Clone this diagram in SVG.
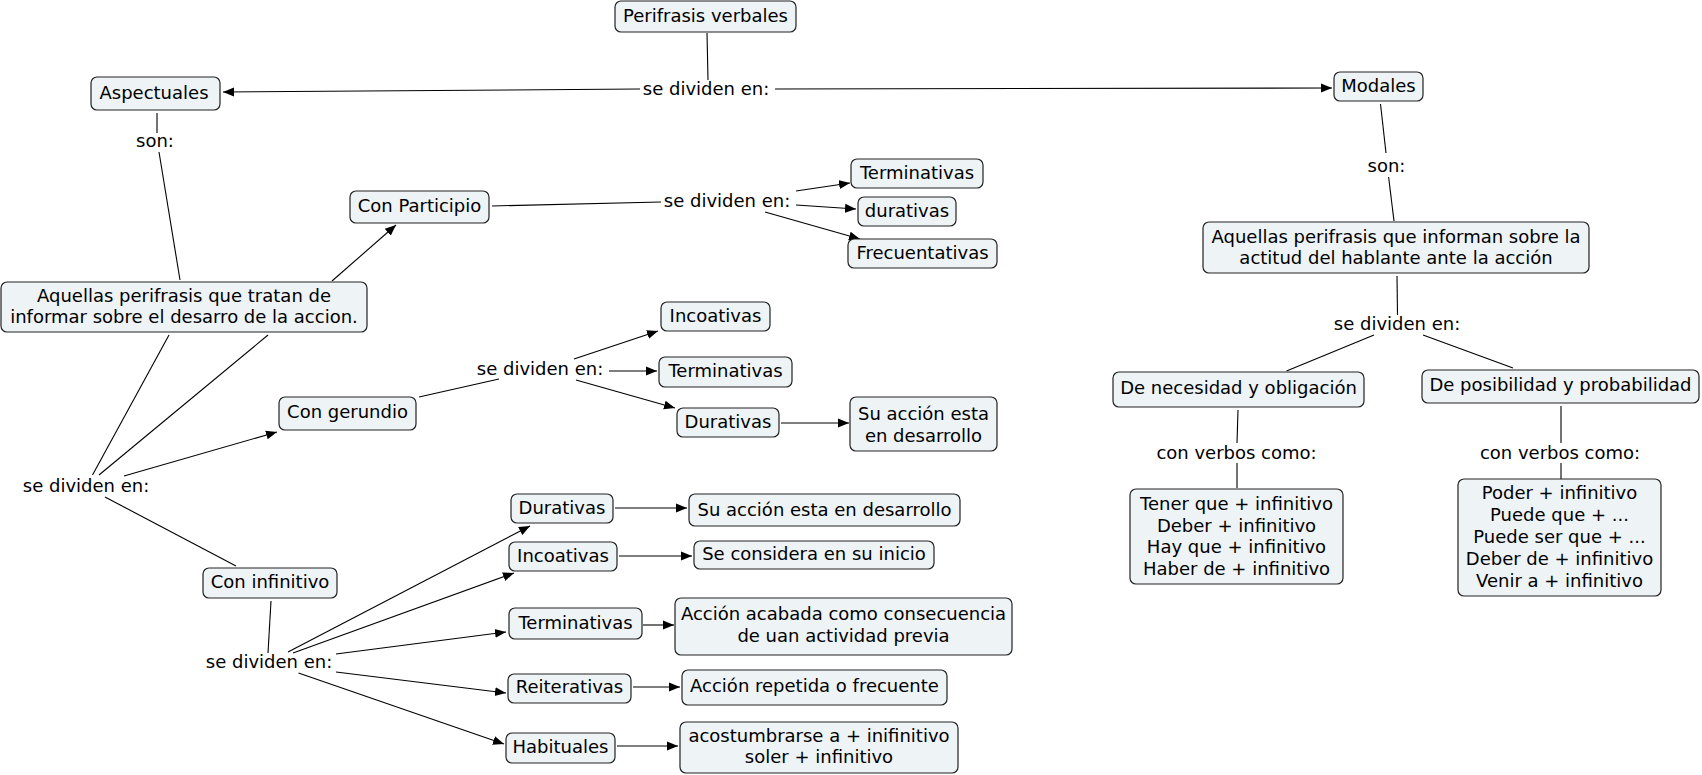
<svg xmlns="http://www.w3.org/2000/svg" width="1702" height="775" viewBox="0 0 1702 775">
<style>
.n rect{fill:#eef3f5;stroke:#222;stroke-width:1.2}
text{font-family:"DejaVu Sans","Verdana",sans-serif;font-size:18px;fill:#000;text-anchor:middle;transform:translateY(-1.5px)}
.c line{stroke:#000;stroke-width:1.1;fill:none}
.c .a{marker-end:url(#ah)}
</style>
<defs>
<marker id="ah" markerUnits="userSpaceOnUse" markerWidth="12" markerHeight="10" refX="11" refY="5" orient="auto">
<path d="M0,0.5 L11,5 L0,9.5 z" fill="#000"/>
</marker>
</defs>
<rect width="1702" height="775" fill="#fff"/>
<g id="connectors" class="c">
<line x1="707" y1="33" x2="708" y2="80"/>
<line class="a" x1="640" y1="89" x2="223" y2="92"/>
<line class="a" x1="775" y1="89" x2="1332" y2="88"/>
<line x1="157" y1="113" x2="157" y2="133"/>
<line x1="159" y1="152" x2="180" y2="280"/>
<line class="a" x1="332" y1="281" x2="396" y2="225"/>
<line x1="492" y1="206" x2="661" y2="202"/>
<line class="a" x1="796" y1="191" x2="850" y2="183"/>
<line class="a" x1="796" y1="205" x2="856" y2="209"/>
<line class="a" x1="765" y1="212" x2="860" y2="239"/>
<line x1="1380.5" y1="104" x2="1386" y2="153"/>
<line x1="1388.6" y1="177" x2="1394" y2="221"/>
<line x1="1397" y1="276" x2="1397.5" y2="315"/>
<line x1="1374" y1="335" x2="1286.5" y2="371"/>
<line x1="1423" y1="335" x2="1513" y2="368"/>
<line x1="1238" y1="410" x2="1237" y2="443"/>
<line x1="1237" y1="463" x2="1237" y2="488"/>
<line x1="1561" y1="406" x2="1561" y2="443"/>
<line x1="1561" y1="463" x2="1561" y2="479"/>
<line x1="169" y1="335" x2="92.5" y2="475"/>
<line x1="268" y1="335" x2="99" y2="475"/>
<line class="a" x1="124" y1="476" x2="277" y2="432"/>
<line x1="105" y1="497" x2="236" y2="566"/>
<line x1="419" y1="397" x2="499" y2="379"/>
<line class="a" x1="574" y1="359" x2="658" y2="331"/>
<line class="a" x1="609" y1="371" x2="657" y2="371"/>
<line class="a" x1="576" y1="380" x2="675" y2="408"/>
<line class="a" x1="781" y1="423" x2="849" y2="423"/>
<line x1="271" y1="601" x2="268" y2="653"/>
<line class="a" x1="288" y1="652" x2="530" y2="526"/>
<line class="a" x1="293" y1="653" x2="514" y2="573"/>
<line class="a" x1="336" y1="654" x2="506" y2="632"/>
<line class="a" x1="336" y1="672" x2="506" y2="693"/>
<line class="a" x1="298.5" y1="673" x2="504" y2="744"/>
<line class="a" x1="615" y1="508" x2="687" y2="508"/>
<line class="a" x1="619" y1="556" x2="692" y2="556"/>
<line class="a" x1="643" y1="625" x2="674" y2="625"/>
<line class="a" x1="633" y1="687" x2="680" y2="687"/>
<line class="a" x1="617" y1="746" x2="678" y2="746"/>
</g>
<g id="n-perifrasis" class="n"><rect x="615" y="1" width="181" height="31" rx="6"/><text x="705.5" y="23">Perifrasis verbales</text></g>
<g id="n-aspectuales" class="n"><rect x="91" y="77" width="129" height="33" rx="6"/><text x="154" y="100">Aspectuales</text></g>
<g id="n-modales" class="n"><rect x="1334" y="72" width="89" height="29" rx="6"/><text x="1378.5" y="93">Modales</text></g>
<g id="n-participio" class="n"><rect x="350" y="191" width="139" height="32" rx="6"/><text x="419.5" y="213.5">Con Participio</text></g>
<g id="n-aquellas-asp" class="n"><rect x="1" y="282" width="366" height="50" rx="6"/><text x="184" y="303.5">Aquellas perifrasis que tratan de</text><text x="184" y="324.5">informar sobre el desarro de la accion.</text></g>
<g id="n-term-p" class="n"><rect x="851" y="159" width="132" height="29" rx="6"/><text x="917" y="180">Terminativas</text></g>
<g id="n-dur-p" class="n"><rect x="858" y="197" width="98" height="29" rx="6"/><text x="907" y="218">durativas</text></g>
<g id="n-frec-p" class="n"><rect x="848" y="239" width="149" height="29" rx="6"/><text x="922.5" y="260">Frecuentativas</text></g>
<g id="n-aquellas-mod" class="n"><rect x="1203" y="222" width="386" height="51" rx="6"/><text x="1396" y="244.5">Aquellas perifrasis que informan sobre la</text><text x="1396" y="265.5">actitud del hablante ante la acción</text></g>
<g id="n-necesidad" class="n"><rect x="1113" y="372" width="251" height="35" rx="6"/><text x="1238.5" y="395.5">De necesidad y obligación</text></g>
<g id="n-posibilidad" class="n"><rect x="1422" y="370" width="277" height="33" rx="6"/><text x="1560.5" y="392">De posibilidad y probabilidad</text></g>
<g id="n-tener" class="n"><rect x="1130" y="489" width="213" height="95" rx="6"/><text x="1236.5" y="511.5">Tener que + infinitivo</text><text x="1236.5" y="533">Deber + infinitivo</text><text x="1236.5" y="554.5">Hay que + infinitivo</text><text x="1236.5" y="576">Haber de + infinitivo</text></g>
<g id="n-poder" class="n"><rect x="1458" y="479" width="203" height="117" rx="6"/><text x="1559.5" y="500.5">Poder + infinitivo</text><text x="1559.5" y="522.5">Puede que + ...</text><text x="1559.5" y="544.5">Puede ser que + ...</text><text x="1559.5" y="566.5">Deber de + infinitivo</text><text x="1559.5" y="588.5">Venir a + infinitivo</text></g>
<g id="n-gerundio" class="n"><rect x="279" y="397" width="137" height="33" rx="6"/><text x="347.5" y="419">Con gerundio</text></g>
<g id="n-inc-g" class="n"><rect x="661" y="302" width="109" height="29" rx="6"/><text x="715.5" y="323">Incoativas</text></g>
<g id="n-term-g" class="n"><rect x="659" y="357" width="133" height="30" rx="6"/><text x="725.5" y="378.5">Terminativas</text></g>
<g id="n-dur-g" class="n"><rect x="677" y="408" width="102" height="29" rx="6"/><text x="728" y="429">Durativas</text></g>
<g id="n-su-accion-g" class="n"><rect x="850" y="397" width="147" height="54" rx="6"/><text x="923.5" y="421.5">Su acción esta</text><text x="923.5" y="443.5">en desarrollo</text></g>
<g id="n-infinitivo" class="n"><rect x="203" y="568" width="134" height="30" rx="6"/><text x="270" y="589.5">Con infinitivo</text></g>
<g id="n-dur-i" class="n"><rect x="511" y="494" width="102" height="29" rx="6"/><text x="562" y="515">Durativas</text></g>
<g id="n-su-accion-i" class="n"><rect x="689" y="494" width="271" height="32" rx="6"/><text x="824.5" y="517">Su acción esta en desarrollo</text></g>
<g id="n-inc-i" class="n"><rect x="509" y="542" width="108" height="29" rx="6"/><text x="563" y="563">Incoativas</text></g>
<g id="n-considera" class="n"><rect x="694" y="541" width="240" height="28" rx="6"/><text x="814" y="561.5">Se considera en su inicio</text></g>
<g id="n-term-i" class="n"><rect x="509" y="608" width="133" height="31" rx="6"/><text x="575.5" y="630.5">Terminativas</text></g>
<g id="n-acabada" class="n"><rect x="675" y="598" width="337" height="57" rx="6"/><text x="843.5" y="621.5">Acción acabada como consecuencia</text><text x="843.5" y="643.5">de uan actividad previa</text></g>
<g id="n-reit" class="n"><rect x="508" y="674" width="123" height="29" rx="6"/><text x="569.5" y="694.5">Reiterativas</text></g>
<g id="n-repetida" class="n"><rect x="682" y="670" width="265" height="35" rx="6"/><text x="814.5" y="693.5">Acción repetida o frecuente</text></g>
<g id="n-habit" class="n"><rect x="506" y="733" width="109" height="30" rx="6"/><text x="560.5" y="754.5">Habituales</text></g>
<g id="n-acostumbrarse" class="n"><rect x="680" y="722" width="278" height="51" rx="6"/><text x="819" y="743.5">acostumbrarse a + inifinitivo</text><text x="819" y="764.5">soler + infinitivo</text></g>
<g id="l-top"><text x="706" y="96.5">se dividen en:</text></g>
<g id="l-son-asp"><text x="155" y="148.5">son:</text></g>
<g id="l-part"><text x="727" y="208.5">se dividen en:</text></g>
<g id="l-son-mod"><text x="1386.5" y="173.5">son:</text></g>
<g id="l-mod"><text x="1397" y="331.5">se dividen en:</text></g>
<g id="l-con1"><text x="1236.5" y="460.5">con verbos como:</text></g>
<g id="l-con2"><text x="1560" y="460.5">con verbos como:</text></g>
<g id="l-asp"><text x="86" y="493.5">se dividen en:</text></g>
<g id="l-ger"><text x="540" y="376.5">se dividen en:</text></g>
<g id="l-inf"><text x="269" y="669.5">se dividen en:</text></g>
</svg>
